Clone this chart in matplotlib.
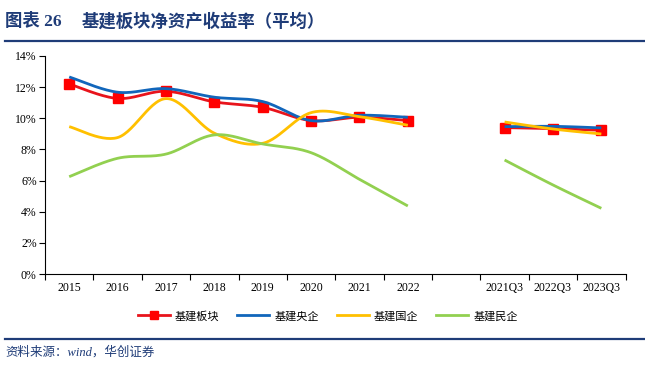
import numpy as np
import matplotlib
matplotlib.use("Agg")
import matplotlib.pyplot as plt
from matplotlib.lines import Line2D

plt.rcParams['font.family'] = ['Liberation Serif', 'Noto Sans CJK SC', 'DejaVu Sans']

# data (ROE, %), None = gap between annual and Q3 groups
categories = ['2015', '2016', '2017', '2018', '2019', '2020', '2021', '2022',
              '', '2021Q3', '2022Q3', '2023Q3']
sector = [12.2, 11.27, 11.73, 11.05, 10.7, 9.85, 10.06, 9.85, None, 9.4, 9.33, 9.23]
central = [12.65, 11.67, 11.9, 11.35, 11.07, 9.85, 10.19, 10.06, None, 9.46, 9.48, 9.38]
state = [9.46, 8.76, 11.26, 9.04, 8.39, 10.36, 10.1, 9.55, None, 9.76, 9.31, 8.99]
private = [6.25, 7.43, 7.7, 8.93, 8.35, 7.79, 6.08, 4.37, None, 7.32, 5.72, 4.22]

series = [
    ('基建板块', sector, '#E8141C', True),
    ('基建央企', central, '#1166BB', False),
    ('基建国企', state, '#FFC000', False),
    ('基建民企', private, '#92D050', False),
]

navy = '#1F3C78'


def smooth(xs, ys, n=30):
    # Excel-like smoothing (Catmull-Rom through the points)
    xs = np.asarray(xs, float)
    ys = np.asarray(ys, float)
    if len(xs) < 3:
        return xs, ys
    px = np.concatenate([[xs[0]], xs, [xs[-1]]])
    py = np.concatenate([[ys[0]], ys, [ys[-1]]])
    ox, oy = [], []
    t = np.linspace(0, 1, n)
    for i in range(1, len(px) - 2):
        p0 = np.array([px[i - 1], py[i - 1]])
        p1 = np.array([px[i], py[i]])
        p2 = np.array([px[i + 1], py[i + 1]])
        p3 = np.array([px[i + 2], py[i + 2]])
        c1 = p1 + (p2 - p0) / 6
        c2 = p2 - (p3 - p1) / 6
        b = ((1 - t) ** 3)[:, None] * p1 + (3 * (1 - t) ** 2 * t)[:, None] * c1 \
            + (3 * (1 - t) * t ** 2)[:, None] * c2 + (t ** 3)[:, None] * p2
        ox.extend(b[:, 0])
        oy.extend(b[:, 1])
    return np.array(ox), np.array(oy)


fig = plt.figure(figsize=(6.45, 3.77), dpi=100)
ax = fig.add_axes([0.0698, 0.273, 0.9, 0.5787])

x = np.arange(len(categories))
handles = []
for name, vals, color, marker in series:
    # split into groups at the gaps
    groups, cur = [], []
    for xi, v in zip(x, vals):
        if v is None:
            if cur:
                groups.append(cur)
            cur = []
        else:
            cur.append((xi, v))
    if cur:
        groups.append(cur)
    for g in groups:
        gx = [p[0] for p in g]
        gy = [p[1] for p in g]
        sx, sy = smooth(gx, gy)
        ax.plot(sx, sy, color=color, lw=2.0, solid_capstyle='butt', zorder=2)
        if marker:
            ax.plot(gx, gy, ls='none', marker='s', ms=7.5, color='#FF0000', zorder=2)
    handles.append(Line2D([0], [0], color=color, lw=2.0,
                          marker='s' if marker else None, ms=6,
                          markerfacecolor='#FF0000', markeredgecolor='#FF0000'))

ax.set_xlim(-0.5, len(categories) - 0.5)
ax.set_ylim(0, 14)
ax.set_yticks(np.arange(0, 15, 2))
ax.set_yticklabels([f'{v}%' for v in range(0, 15, 2)], fontsize=8.5)
ax.set_xticks(x)
ax.set_xticklabels(categories, fontsize=8.5)
ax.set_xticks(np.arange(-0.5, len(categories), 1), minor=True)
ax.tick_params(axis='x', which='major', length=0, pad=6)
ax.tick_params(axis='x', which='minor', length=4, direction='out', width=0.8)
ax.tick_params(axis='y', length=4, direction='out', width=0.8, pad=2)
for s in ['top', 'right']:
    ax.spines[s].set_visible(False)
for s in ['left', 'bottom']:
    ax.spines[s].set_linewidth(0.8)

fig.legend(handles, [s[0] for s in series], loc='center', ncol=4,
           bbox_to_anchor=(0.508, 0.162), frameon=False,
           handlelength=2.9, columnspacing=1.6, handletextpad=0.45,
           prop={'family': ['Noto Sans CJK SC'], 'size': 8})

# title and source
fig.text(0.008, 0.942, '图表 26', fontsize=12.5,
         fontweight='bold', color=navy, va='center', ha='left')
fig.text(0.127, 0.942, '基建板块净资产收益率（平均）', fontsize=12.5,
         fontweight='bold', color=navy, va='center', ha='left')
fig.add_artist(Line2D([0.008, 1.0], [0.891, 0.891], color=navy, lw=1.6,
                      transform=fig.transFigure))
fig.add_artist(Line2D([0.008, 1.0], [0.100, 0.100], color=navy, lw=1.6,
                      transform=fig.transFigure))
fig.text(0.008, 0.066, '资料来源：wind，华创证券', fontsize=9, style='italic',
         color=navy, va='center', ha='left')

fig.savefig('out.png', dpi=100)
